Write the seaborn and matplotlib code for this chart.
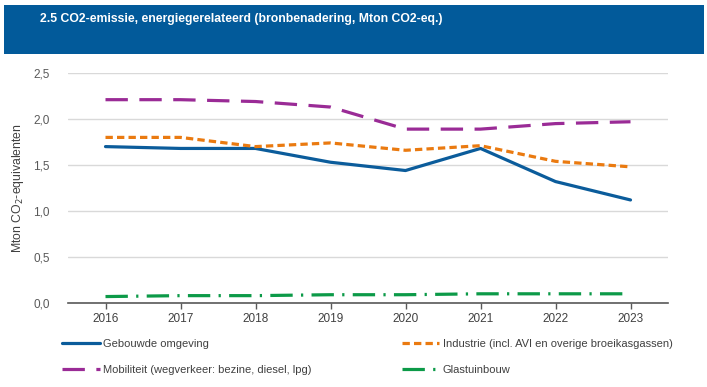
import numpy as np
import pandas as pd
import matplotlib
matplotlib.use("Agg")
import matplotlib.pyplot as plt
from matplotlib.patches import Rectangle
import seaborn as sns

# Data (Mton CO2-eq.)
years = [2016, 2017, 2018, 2019, 2020, 2021, 2022, 2023]
gebouwde = [1.70, 1.68, 1.68, 1.53, 1.44, 1.68, 1.32, 1.12]
industrie = [1.80, 1.80, 1.70, 1.74, 1.66, 1.71, 1.54, 1.48]
mobiliteit = [2.21, 2.21, 2.19, 2.13, 1.89, 1.89, 1.95, 1.97]
glastuinbouw = [0.07, 0.08, 0.08, 0.09, 0.09, 0.10, 0.10, 0.10]

series_names = [
    "Gebouwde omgeving",
    "Industrie (incl. AVI en overige broeikasgassen)",
    "Mobiliteit (wegverkeer: bezine, diesel, lpg)",
    "Glastuinbouw",
]
y_ticks = [0.0, 0.5, 1.0, 1.5, 2.0, 2.5]
y_tick_labels = ["0,0", "0,5", "1,0", "1,5", "2,0", "2,5"]
title = "2.5 CO2-emissie, energiegerelateerd (bronbenadering, Mton CO2-eq.)"

df = pd.DataFrame({
    "jaar": years * 4,
    "waarde": gebouwde + industrie + mobiliteit + glastuinbouw,
    "reeks": [n for n in series_names for _ in years],
})

palette = {
    series_names[0]: "#0B5C9B",
    series_names[1]: "#EA7A10",
    series_names[2]: "#9A2B96",
    series_names[3]: "#0C9A48",
}
dashes = {
    series_names[0]: "",
    series_names[1]: (2.3, 1.3),
    series_names[2]: (7, 3.6),
    series_names[3]: (7, 2.6, 0.7, 2.6),
}

sns.set_theme(style="white")
plt.rcParams["font.family"] = ["Liberation Sans", "DejaVu Sans"]

fig = plt.figure(figsize=(7.07, 3.87), dpi=100)
fig.patch.set_facecolor("white")

# title banner
fig.patches.append(Rectangle((4 / 707, 1 - 54 / 387), 700 / 707, 49 / 387,
                             transform=fig.transFigure, facecolor="#025A9A",
                             edgecolor="none", zorder=0))
fig.text(40 / 707, 1 - 19 / 387, title, color="white", fontsize=8.8,
         fontweight="bold", va="center", ha="left")

ax = fig.add_axes([68 / 707, 1 - 303 / 387, 600 / 707, 230 / 387])
sns.lineplot(data=df, x="jaar", y="waarde", hue="reeks", style="reeks",
             palette=palette, dashes=dashes, linewidth=2.3, ax=ax,
             legend=True)

ax.set_xlim(2015.5, 2023.5)
ax.set_ylim(0, 2.5)
ax.set_xticks(years)
ax.set_xticklabels([str(y) for y in years], color="#404040", fontsize=8.5)
ax.set_yticks(y_ticks)
ax.set_yticklabels(y_tick_labels, color="#595959", fontsize=8.5)
ax.set_xlabel("")
ax.set_ylabel("Mton CO$_2$-equivalenten", color="#404040", fontsize=8.8)
ax.yaxis.set_label_coords(-42 / 600, 0.5)
ax.yaxis.grid(True, color="#D9D9D9", linewidth=1)
ax.set_axisbelow(True)
for s in ["left", "right", "top"]:
    ax.spines[s].set_visible(False)
ax.spines["bottom"].set_color("#595959")
ax.spines["bottom"].set_linewidth(1.2)
ax.tick_params(axis="x", bottom=True, length=4, width=1, color="#595959", pad=3)
ax.tick_params(axis="y", left=False, pad=7)

handles, labels = ax.get_legend_handles_labels()
ax.get_legend().remove()
lookup = dict(zip(labels, handles))
order = [series_names[0], series_names[2], series_names[1], series_names[3]]
fig.legend([lookup[n] for n in order], order, ncol=2, loc="upper left",
           bbox_to_anchor=(52 / 707, 1 - 329 / 387), frameon=False,
           fontsize=8, labelcolor="#404040", handlelength=3.4,
           handletextpad=0.3, columnspacing=8.1, labelspacing=1.45)

fig.savefig("out.png", dpi=100)
